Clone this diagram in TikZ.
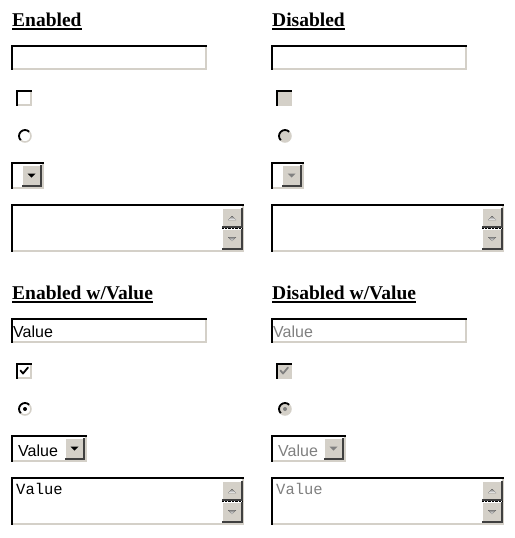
\documentclass[tikz,border=0pt]{standalone}
\usepackage{fontspec}
\setmainfont{Liberation Serif}
\setsansfont{Liberation Sans}
\setmonofont{Liberation Mono}
\usetikzlibrary{positioning}

\definecolor{face}{HTML}{D4D0C8}
\definecolor{shade}{HTML}{808080}
\definecolor{edge}{HTML}{404040}

\begin{document}
\begin{tikzpicture} [
            x=1pt,
            y=-1pt,
            heading/.style = {anchor=base west, inner sep=0pt, font=\fontsize{19.5}{20}\selectfont\bfseries},
            heading rule/.style = {draw, line width=1.4pt},
            field text/.style = {anchor=base west, inner sep=0pt, font=\sffamily\fontsize{16}{16}\selectfont},
            area text/.style = {anchor=base west, inner sep=0pt, font=\ttfamily\fontsize{15.5}{16}\selectfont},
            sunk dark/.style = {draw=black, line width=2pt, line cap=rect},
            sunk light/.style = {draw=face, line width=1.5pt},
            lit edge/.style = {draw=white, line width=1pt},
            shadow edge/.style = {draw=edge, line width=1.5pt},
            tick/.style = {line width=1.8pt, line cap=round, line join=round}
        ]
        \useasboundingbox (0,0) rectangle (514,538);
        \fill[white] (0,0) rectangle (514,538);
        % One panel of controls per column and row
        \foreach \n/\cx/\cy/\title/\fillc/\ink/\mk/\val/\selw in {
                1/12/0/Enabled/white/black/none/{}/31,
                2/272/0/Disabled/face/black!50/none/{}/31,
                3/12/273/{Enabled w/Value}/white/black/black/Value/74,
                4/272/273/{Disabled w/Value}/face/black!50/black!50/Value/73}
        {
            \begin{scope}[shift={(\cx,\cy)}]
                % heading with its rule
                \node[heading] (title\n) at (0,26) {\title};
                \draw[heading rule] ([yshift=-3pt]title\n.base west) -- ([yshift=-3pt]title\n.base east);
                % text field
                \fill[white] (0,46) rectangle (194,69);
                \draw[sunk light] (0,69) -| (194,46);
                \draw[sunk dark] (0,69) |- (194,46);
                \node[field text, text=\ink] (field\n) at (1,64) {\val};
                % check box
                \fill[\fillc] (5,91) rectangle (19,105);
                \draw[sunk light] (5,105) -| (19,91);
                \draw[sunk dark] (5,105) |- (19,91);
                \draw[tick, draw=\mk] (8.5,97.5) -- (11,100.5) -- (16,94.5);
                % radio button
                \fill[\fillc] (13,136) circle[radius=6];
                \draw[draw=face, line width=1.5pt] (13,136) ++(315:6) arc[start angle=315, end angle=495, radius=6];
                \draw[draw=black, line width=1.8pt] (13,136) ++(135:6) arc[start angle=135, end angle=315, radius=6];
                \fill[fill=\mk] (13,136) circle[radius=2];
                % drop-down list
                \fill[white] (0,163) rectangle (\selw,188);
                \draw[sunk light] (0,188) -| (\selw,163);
                \draw[sunk dark] (0,188) |- (\selw,163);
                \fill[face] (\selw-21,165) rectangle (\selw-2,186);
                \draw[lit edge] (\selw-21,186) |- (\selw-2,165);
                \draw[shadow edge] (\selw-21,186) -| (\selw-2,165);
                \fill[\ink] (\selw-15.5,173.5) -- (\selw-7.5,173.5) -- (\selw-11.5,177.5) -- cycle;
                \node[field text, text=\ink] (choice\n) at (6,183) {\val};
                % text area with its scroll buttons
                \fill[white] (0,205) rectangle (231,251);
                \draw[sunk light] (0,251) -| (231,205);
                \draw[sunk dark] (0,251) |- (231,205);
                \draw[shade, densely dotted] (210,228) -- (230,228);
                \foreach \top/\bot in {208/227, 229/249} {
                    \fill[face] (210,\top) rectangle (230,\bot);
                    \draw[lit edge] (210,\bot) |- (230,\top);
                    \draw[shadow edge] (210,\bot) -| (230,\top);
                }
                \fill[shade] (216,220) -- (224,220) -- (220,216) -- cycle;
                \fill[shade] (216,237) -- (224,237) -- (220,241) -- cycle;
                \node[area text, text=\ink] (area\n) at (4,221) {\val};
            \end{scope}
        }
    \end{tikzpicture}
\end{document}
